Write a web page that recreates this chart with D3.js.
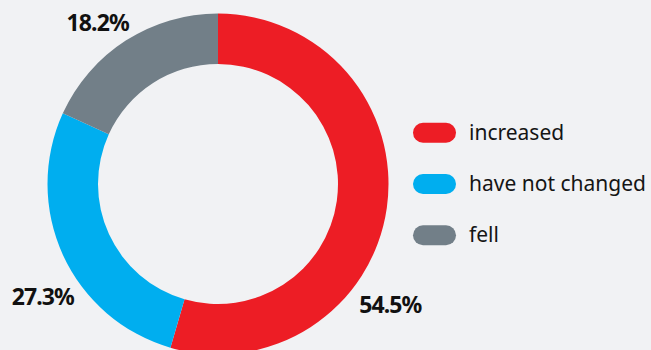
<!DOCTYPE html>
<html>
<head>
<meta charset="utf-8">
<script src="https://cdn.jsdelivr.net/npm/d3@7"></script>
<style>
  html, body { margin: 0; padding: 0; background: #f1f2f4; }
  svg { display: block; }
  .pct { font-family: "Noto Sans", sans-serif; font-weight: 700; fill: #111; }
  .leg { font-family: "Noto Sans", sans-serif; fill: #151515; }
</style>
</head>
<body>
<svg id="chart" width="651" height="350"></svg>
<script>
// Share of responses, in percent
const categories = ["increased", "have not changed", "fell"];
const values = [54.5, 27.3, 18.2];
const colors = ["#ed1d25", "#00aeef", "#727f88"];

const width = 651, height = 350;
const cx = 218, cy = 184;
const outerR = 170.5, innerR = 120;

const svg = d3.select("#chart");

const pie = d3.pie().sort(null).value(d => d.value);
const data = categories.map((c, i) => ({ name: c, value: values[i], color: colors[i] }));
const arcs = pie(data);

const arc = d3.arc().innerRadius(innerR).outerRadius(outerR);

const g = svg.append("g").attr("transform", `translate(${cx},${cy})`);

g.selectAll("path.slice")
  .data(arcs)
  .join("path")
  .attr("class", "slice")
  .attr("d", arc)
  .attr("fill", d => d.data.color);

// Percentage labels sit outside the ring: each is placed at its slice's
// mid-angle, nudged (degrees, radius) so the big slice's label swings
// down clear of the legend.
const labelNudge = {
  "increased": [26.8, 210],
  "have not changed": [-8, 208],
  "fell": [-3.8, 202]
};
g.selectAll("text.pct")
  .data(arcs)
  .join("text")
  .attr("class", "pct")
  .attr("font-size", 23)
  .attr("letter-spacing", -0.9)
  .attr("text-anchor", "middle")
  .attr("dominant-baseline", "central")
  .attr("transform", d => {
    const [da, r] = labelNudge[d.data.name];
    const a = (d.startAngle + d.endAngle) / 2 + da * Math.PI / 180;
    return `translate(${r * Math.sin(a)},${-r * Math.cos(a)})`;
  })
  .text(d => d3.format(".1f")(d.data.value) + "%");

// Legend
const legendY = d3.scalePoint().domain(categories).range([132.7, 235.3]);
const legend = svg.append("g");
const item = legend.selectAll("g")
  .data(data)
  .join("g")
  .attr("transform", d => `translate(413,${legendY(d.name)})`);
item.append("rect")
  .attr("x", 0).attr("y", -10)
  .attr("width", 43).attr("height", 20)
  .attr("rx", 10).attr("ry", 10)
  .attr("fill", d => d.color);
item.append("text")
  .attr("class", "leg")
  .attr("x", 56)
  .attr("y", 7)
  .attr("font-size", 21)
  .text(d => d.name);
</script>
</body>
</html>
